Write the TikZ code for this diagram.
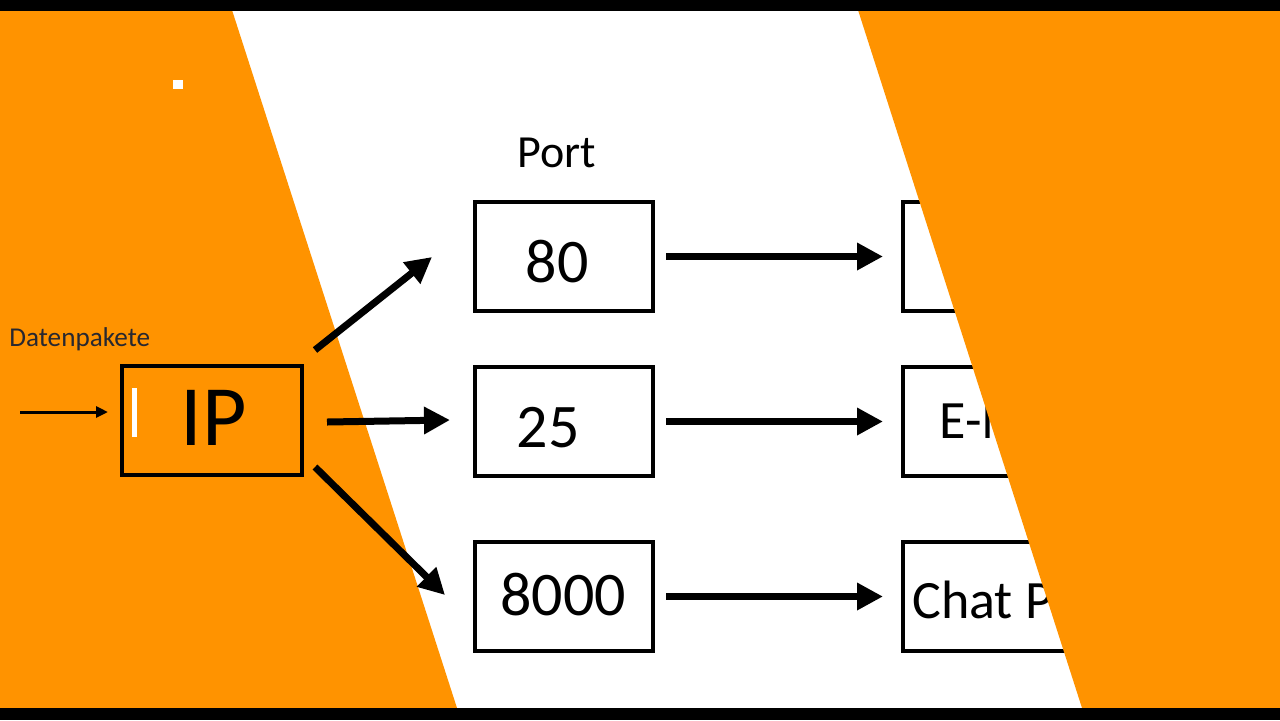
\documentclass[tikz,border=0pt]{standalone}
\usepackage{fontspec}
\setmainfont{Carlito}
\usetikzlibrary{arrows.meta}
\definecolor{orng}{RGB}{255,147,0}
\definecolor{lbl}{RGB}{40,40,48}
\begin{document}
\begin{tikzpicture}[x=0.5pt,y=-0.5pt,
  portbox/.style={draw=black,line width=2pt,fill=white,minimum width=89pt,minimum height=54.5pt,inner sep=0pt},
  ipbox/.style={draw=black,line width=2pt,minimum width=90pt,minimum height=54.5pt,inner sep=0pt},
  bigarrow/.style={line width=3.5pt,-{Triangle[length=13pt,width=13pt]}},
  thinarrow/.style={line width=1.5pt,-{Triangle[length=6pt,width=5.5pt]}},
  txt/.style={inner sep=0pt,text=black}]
\useasboundingbox (0,0) rectangle (1280,720);
% background
\fill[white] (0,0) rectangle (1280,720);
\fill[orng] (0,10) -- (232,10) -- (457,708) -- (0,708) -- cycle;
\fill[white] (173,80) rectangle (183,89);

% left: IP
\node[ipbox] (ip) at (212,420.5) {};
\fill[white] (132,388) rectangle (137,437);
\node[txt,font=\fontsize{43}{50}\selectfont] (iptext) at (214,418) {IP};
\node[txt,text=lbl,anchor=base west,font=\fontsize{13.6}{16}\selectfont] (daten) at (9,346) {Datenpakete};
\coordinate (din) at (20,412);

% port column
\node[txt,font=\fontsize{23}{28}\selectfont] (port) at (557,153) {Port};
\node[portbox] (p80) at (564,256.5) {};
\node[portbox] (p25) at (564,421.5) {};
\node[portbox] (p8000) at (564,596.5) {};
\node[txt,font=\fontsize{31}{36}\selectfont] (t80) at (557,262) {80};
\node[txt,font=\fontsize{31}{36}\selectfont] (t25) at (548,428) {25};
\node[txt,font=\fontsize{31}{36}\selectfont] (t8000) at (563,595) {8000};

% application column
\node[portbox] (r1) at (992,256.5) {};
\node[portbox] (r2) at (992,421.5) {};
\node[portbox] (r3) at (992,596.5) {};
\node[txt,anchor=west,font=\fontsize{27}{32}\selectfont] (tmail) at (939,421) {E-M};
\node[txt,anchor=west,font=\fontsize{27}{32}\selectfont] (tchat) at (912,600) {Chat P};

% connectors
\draw[thinarrow] (din) -- ([shift={(-12,-8.5)}]ip.west);
\draw[bigarrow] ([shift={(11,-14)}]ip.north east) -- ([shift={(-41,0.5)}]p80.west);
\draw[bigarrow] ([shift={(23,1.5)}]ip.east) -- ([shift={(-23,-1.5)}]p25.west);
\draw[bigarrow] ([shift={(11,-10)}]ip.south east) -- ([shift={(-28,-1.5)}]p8000.west);
\draw[bigarrow,shorten <=5.5pt,shorten >=9pt] (p80.east) -- (r1.west);
\draw[bigarrow,shorten <=5.5pt,shorten >=9pt] (p25.east) -- (r2.west);
\draw[bigarrow,shorten <=5.5pt,shorten >=9pt] (p8000.east) -- (r3.west);

% right orange and black bars
\fill[orng] (858,10) -- (1280,10) -- (1280,708) -- (1082,708) -- cycle;
\fill[black] (0,0) rectangle (1280,10.5);
\fill[black] (0,708) rectangle (1280,720);
\end{tikzpicture}
\end{document}
